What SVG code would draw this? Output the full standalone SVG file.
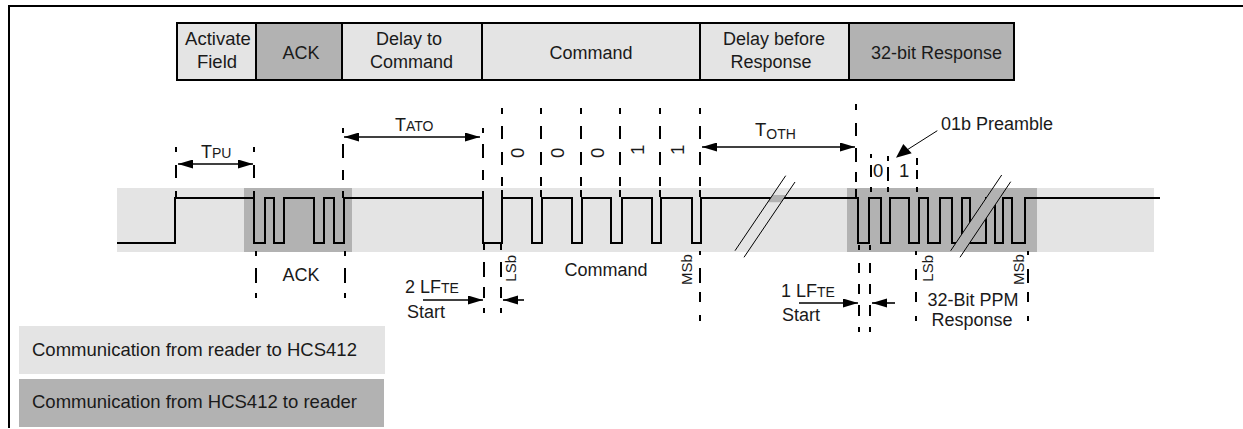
<svg xmlns="http://www.w3.org/2000/svg" width="1243" height="429" viewBox="0 0 1243 429">
<style>
text{font-family:"Liberation Sans",Arial,sans-serif;font-size:18px;fill:#1a1a1a}
.m{text-anchor:middle}
.b{font-size:18.5px}
.s{font-size:14px}
.r{font-size:15px}
.lt{fill:#e4e4e4}.dk{fill:#b2b2b2}
.cell{stroke:#000;stroke-width:2}
.d{stroke:#000;stroke-width:2;fill:none}
.w{stroke:#000;stroke-width:2;fill:none}
.t{stroke:#000;stroke-width:1;fill:none}
.a{stroke:#000;stroke-width:1.6;fill:none;marker-end:url(#ah)}
.ab{stroke:#000;stroke-width:1.6;fill:none;marker-start:url(#ahs);marker-end:url(#ah)}
</style>
<defs>
<marker id="ah" markerUnits="userSpaceOnUse" markerWidth="16" markerHeight="10" refX="15" refY="4.5" orient="auto"><path d="M0 0L15 4.5L0 9z" fill="#000"/></marker>
<marker id="ahs" markerUnits="userSpaceOnUse" markerWidth="16" markerHeight="10" refX="0" refY="4.5" orient="auto"><path d="M15 0L0 4.5L15 9z" fill="#000"/></marker>
</defs>
<rect width="1243" height="429" fill="#fff"/>
<path id="frame" d="M9 428V6H1243" class="w"/>
<g id="legend-light"><rect x="19" y="326" width="366" height="48" class="lt"/><text class="b" x="32" y="356">Communication from reader to HCS412</text></g>
<g id="legend-dark"><rect x="19" y="379" width="365" height="48" class="dk"/><text class="b" x="32" y="408">Communication from HCS412 to reader</text></g>
<g id="bands">
<rect x="117" y="188" width="1037" height="64" class="lt"/>
<rect x="244" y="188" width="108" height="64" class="dk"/>
<rect x="847" y="188" width="190" height="64" class="dk"/>
</g>
<g id="table">
<g id="cell-activate"><rect x="177" y="23" width="79" height="57" class="lt cell"/><text class="m b" x="218" y="45">Activate</text><text class="m b" x="217" y="68">Field</text></g>
<g id="cell-ack"><rect x="256" y="23" width="86" height="57" class="dk cell"/><text class="m" x="301" y="59">ACK</text></g>
<g id="cell-delay-command"><rect x="342" y="23" width="140" height="57" class="lt cell"/><text class="m" x="409" y="45">Delay to</text><text class="m" x="411.5" y="68">Command</text></g>
<g id="cell-command"><rect x="482" y="23" width="218" height="57" class="lt cell"/><text class="m" x="591" y="59">Command</text></g>
<g id="cell-delay-response"><rect x="700" y="23" width="149" height="57" class="lt cell"/><text class="m" x="774" y="45">Delay before</text><text class="m" x="771" y="68">Response</text></g>
<g id="cell-response"><rect x="849" y="23" width="165" height="57" class="dk cell"/><text class="m" x="936.5" y="59">32-bit Response</text></g>
</g>
<g id="connectors">
<path id="waveform" class="w" d="M117 243H175V198H254V243H265V198H274V243H284V198H314V243H324V198H334V243H344V198H483V243H502V198H532V243H542V198H572V243H582V198H611V243H622V198H652V243H661V198H692V243H701V198H858V243H869V198H881V243H890V198H909V243H919V198H928V243H940V198H952V243H962V198H970V243H986V198H995V243H1003V198H1012V243H1025V198H1160"/>
<polygon class="dk" points="772.6,195 786.2,195 781.2,202.3 767.7,202.3"/>
<path class="t" d="M735 250.7L785.7 175.7M744 257.3L795 182"/>
<polygon class="dk" points="992.9,188 1006.7,188 963.6,252 949.8,252"/>
<path class="t" d="M950.7 250.7L1001.7 175M960 257.3L1010.7 181.7"/>
<path id="dashes" class="d" d="M176 147V152M176 165V178M176 191V197
M254 147V152M254 165V178M254 191V197
M343 128V133M343 144V158M343 170V180M343 191V198
M483 128V133M483 144V158M483 170V180M483 191V198
M502 108V114M502 126V139M502 152V165M502 177V186M502 190V197
M541 108V114M541 126V139M541 152V165M541 177V186M541 190V197
M581 108V114M581 126V139M581 152V165M581 177V186M581 190V197
M620 108V114M620 126V139M620 152V165M620 177V186M620 190V197
M660 108V114M660 126V139M660 152V165M660 177V186M660 190V197
M700 108V114M700 126V139M700 152V165M700 177V186M700 190V197
M856 104V110M856 123V136M856 148V162M856 172V182M856 189V197
M871 154V158M871 165V177M871 187V192
M888 156V161M888 167V181M888 187V192
M917 158V165M917 170V179M917 187V192
M256 251V256M256 268V283M256 293V298
M345 251V256M345 268V283M345 293V298
M484 244V250M484 262V277M484 287V298M484 308V313
M501 244V250M501 262V277M501 287V298M501 308V313
M700 251V255M700 268V283M700 292V302M700 315V321
M859 245V250M859 263V273M859 284V294M859 305V316M859 327V332
M870 245V250M870 263V273M870 284V294M870 305V316M870 327V332
M916 251V255M916 269V280M916 292V302M916 316V321
M1028 251V255M1028 269V283M1028 292V302M1028 316V321"/>
<path class="ab" d="M178 164H253"/>
<path class="ab" d="M344 137H480"/>
<path class="ab" d="M702 147H855"/>
<path class="a" d="M423 300H483"/>
<path class="a" d="M524 300H503"/>
<path class="a" d="M799 303H858"/>
<path class="a" d="M895 303H872"/>
<path class="t" d="M937.3 130.7L899 155"/>
<polygon points="896,157.7 903.3,144 911.7,153.3" fill="#000"/>
</g>
<g id="labels">
<text x="201" y="158">T<tspan class="s">PU</tspan></text>
<text x="395" y="131">T<tspan class="s">ATO</tspan></text>
<text x="755" y="136" class="b">T<tspan class="s" dy="3">OTH</tspan></text>
<text class="m" x="301" y="281">ACK</text>
<text class="m" x="606" y="276">Command</text>
<text x="405" y="293">2 LF<tspan class="s">TE</tspan></text>
<text x="407" y="318">Start</text>
<text x="781" y="297">1 LF<tspan class="s">TE</tspan></text>
<text x="782" y="321">Start</text>
<text class="m" x="973" y="306">32-Bit PPM</text>
<text class="m" x="972" y="326">Response</text>
<text x="941" y="130">01b Preamble</text>
<text class="b" x="873" y="177">0</text>
<text class="b" x="899" y="177">1</text>
<text class="r" transform="translate(515.7 281.7) rotate(-90)">LSb</text>
<text class="r" transform="translate(691.7 285) rotate(-90)">MSb</text>
<text class="r" transform="translate(932.7 281.7) rotate(-90)">LSb</text>
<text class="r" transform="translate(1024.3 285) rotate(-90)">MSb</text>
<text class="b" transform="translate(524 158) rotate(-90)">0</text>
<text class="b" transform="translate(564 158) rotate(-90)">0</text>
<text class="b" transform="translate(604 158) rotate(-90)">0</text>
<text class="b" transform="translate(644 155) rotate(-90)">1</text>
<text class="b" transform="translate(684 155) rotate(-90)">1</text>
</g>
</svg>
